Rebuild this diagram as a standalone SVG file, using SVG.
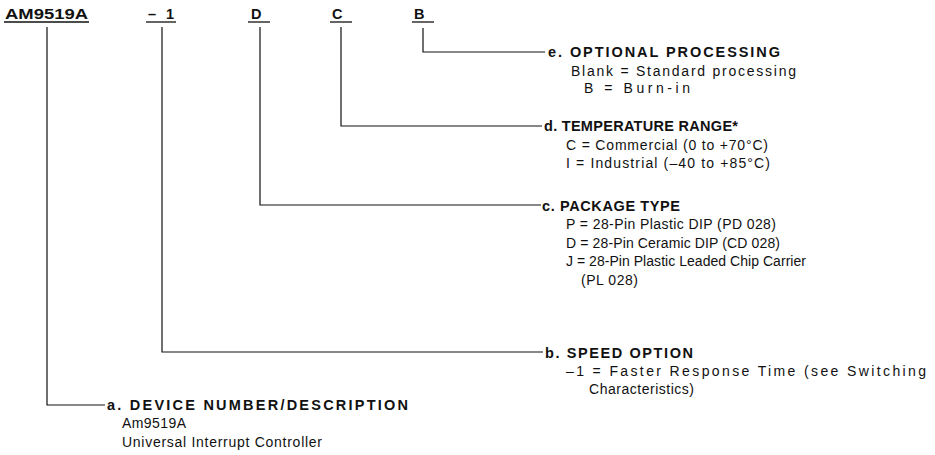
<svg xmlns="http://www.w3.org/2000/svg" width="935" height="455" viewBox="0 0 935 455">
<style>
  text { font-family: "Liberation Sans", Arial, sans-serif; fill: #111; }
  .top { font-size: 14.5px; font-weight: bold; }
  .h { font-size: 14.5px; font-weight: bold; }
  .b { font-size: 14px; }
  .ln { stroke: #111; stroke-width: 1.2; fill: none; }
  .ul { stroke: #111; stroke-width: 1.3; }
</style>
<rect width="935" height="455" fill="#fff"/>
<g id="codes">
  <text class="top" x="5" y="19" textLength="83" lengthAdjust="spacingAndGlyphs">AM9519A</text>
  <line class="ul" x1="4" y1="22" x2="89" y2="22"/>
  <text class="top" x="148" y="19" textLength="26" lengthAdjust="spacing">–1</text>
  <line class="ul" x1="146" y1="22" x2="176" y2="22"/>
  <text class="top" x="251" y="19">D</text>
  <line class="ul" x1="248" y1="22" x2="270" y2="22"/>
  <text class="top" x="332" y="19">C</text>
  <line class="ul" x1="330" y1="22" x2="352" y2="22"/>
  <text class="top" x="414" y="19">B</text>
  <line class="ul" x1="412" y1="22" x2="434" y2="22"/>
</g>
<g id="connectors">
  <polyline class="ln" points="423,28 423,52 545,52"/>
  <polyline class="ln" points="341,27 341,126 542,126"/>
  <polyline class="ln" points="260,27 260,205 541,205"/>
  <polyline class="ln" points="162,27 162,352 543,352"/>
  <polyline class="ln" points="47,27 47,405 105,405"/>
</g>
<g id="e">
  <text class="h" x="548" y="57" textLength="232" lengthAdjust="spacing">e. OPTIONAL PROCESSING</text>
  <text class="b" x="571" y="76" textLength="225" lengthAdjust="spacing">Blank = Standard processing</text>
  <text class="b" x="584" y="93" textLength="106" lengthAdjust="spacing">B = Burn-in</text>
</g>
<g id="d">
  <text class="h" x="544" y="131" textLength="194" lengthAdjust="spacing">d. TEMPERATURE RANGE*</text>
  <text class="b" x="566" y="150" textLength="202" lengthAdjust="spacing">C = Commercial (0 to +70°C)</text>
  <text class="b" x="566" y="168" textLength="204" lengthAdjust="spacing">I = Industrial (–40 to +85°C)</text>
</g>
<g id="c">
  <text class="h" x="542" y="211" textLength="138" lengthAdjust="spacing">c. PACKAGE TYPE</text>
  <text class="b" x="566" y="229" textLength="210" lengthAdjust="spacing">P = 28-Pin Plastic DIP (PD 028)</text>
  <text class="b" x="566" y="248" textLength="214" lengthAdjust="spacing">D = 28-Pin Ceramic DIP (CD 028)</text>
  <text class="b" x="566" y="266" textLength="240" lengthAdjust="spacing">J = 28-Pin Plastic Leaded Chip Carrier</text>
  <text class="b" x="581" y="285" textLength="57" lengthAdjust="spacing">(PL 028)</text>
</g>
<g id="b">
  <text class="h" x="545" y="358" textLength="148" lengthAdjust="spacing">b. SPEED OPTION</text>
  <text class="b" x="566" y="376" textLength="360" lengthAdjust="spacing">–1 = Faster Response Time (see Switching</text>
  <text class="b" x="589" y="394" textLength="105" lengthAdjust="spacing">Characteristics)</text>
</g>
<g id="a">
  <text class="h" x="107" y="410" textLength="301" lengthAdjust="spacing">a. DEVICE NUMBER/DESCRIPTION</text>
  <text class="b" x="122" y="428" textLength="64" lengthAdjust="spacing">Am9519A</text>
  <text class="b" x="122" y="447" textLength="200" lengthAdjust="spacing">Universal Interrupt Controller</text>
</g>
</svg>
